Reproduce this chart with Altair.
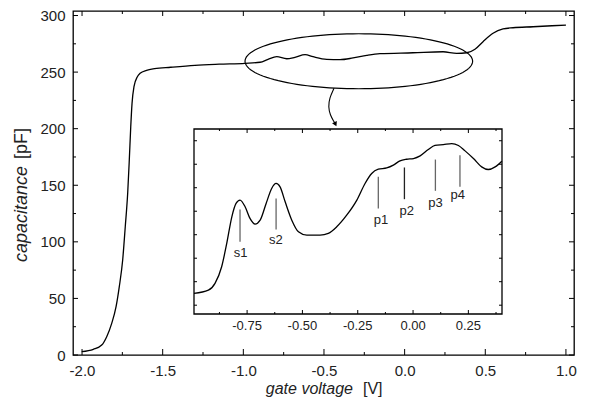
import altair as alt
import pandas as pd
import numpy as np

FONT = "Liberation Sans"

# ---------------- main curve (gate voltage [V], capacitance [pF]) -------------
main_x = [-2.002, -1.930, -1.878, -1.847, -1.816, -1.789, -1.769, -1.748, -1.732,
          -1.717, -1.707, -1.698, -1.690, -1.678, -1.657, -1.640, -1.600, -1.550,
          -1.450, -1.300, -1.150, -0.990, -0.896, -0.847, -0.793, -0.731, -0.680,
          -0.617, -0.568, -0.483, -0.400, -0.320, -0.235, -0.153, 0.052, 0.238,
          0.323, 0.385, 0.436, 0.486, 0.548, 0.610, 0.672, 0.796, 1.000]
main_y = [2.9, 5.0, 8.8, 16.2, 28.0, 42.7, 60.4, 84.0, 113.4,
          142.9, 172.3, 201.7, 222.4, 237.1, 245.9, 248.9, 251.5, 253.0,
          254.3, 256.0, 257.0, 257.8, 258.7, 261.3, 263.6, 261.8, 263.1,
          265.4, 263.6, 261.3, 261.0, 262.5, 264.8, 266.3, 267.1, 268.0,
          266.6, 267.1, 270.2, 276.9, 284.3, 288.1, 289.2, 290.1, 291.6]

# ---------------- inset curve ------------------------------------------------
inset_x = [-0.990, -0.925, -0.895, -0.865, -0.842, -0.819, -0.800, -0.782, -0.759,
           -0.737, -0.714, -0.691, -0.664, -0.639, -0.619, -0.601, -0.578, -0.548,
           -0.518, -0.480, -0.420, -0.383, -0.345, -0.300, -0.254, -0.217, -0.187,
           -0.157, -0.119, -0.089, -0.059, -0.029, 0.002, 0.032, 0.069, 0.099,
           0.137, 0.175, 0.205, 0.235, 0.273, 0.310, 0.340, 0.371, 0.401]
inset_y = [257.81, 258.03, 258.49, 259.62, 261.21, 263.02, 263.93, 264.16, 263.70,
           262.91, 262.52, 262.79, 263.93, 264.95, 265.29, 265.06, 264.04, 262.79,
           262.00, 261.77, 261.77, 261.89, 262.34, 263.13, 264.16, 265.29, 265.97,
           266.26, 266.35, 266.54, 266.83, 266.94, 266.99, 267.17, 267.60, 267.88,
           267.94, 268.01, 267.88, 267.51, 266.99, 266.42, 266.24, 266.42, 266.81]

# ---------------- peak markers in the inset ----------------------------------
marker_label = ["s1", "s2", "p1", "p2", "p3", "p4"]
marker_x = [-0.782, -0.619, -0.157, -0.039, 0.101, 0.212]
marker_top = [263.52, 264.27, 265.74, 266.38, 266.92, 267.22]
marker_bottom = [261.32, 262.16, 263.59, 264.22, 264.79, 265.06]
marker_label_x = [-0.779, -0.620, -0.145, -0.028, 0.101, 0.202]
marker_label_y = [260.53, 261.43, 262.79, 263.41, 263.93, 264.50]
marker_color = ["#666666", "#666666", "#666666", "#222222", "#666666", "#666666"]

# ---------------- ellipse + arrow annotation (main coords) -------------------
ell_cx, ell_cy, ell_rx, ell_ry = -0.284, 259.6, 0.7055, 24.3
arrow_x = [-0.438, -0.466, -0.473, -0.462, -0.438, -0.428]
arrow_y = [235.7, 227.1, 219.4, 212.1, 206.2, 203.5]
arrow_head = (-0.431, 204.5)

# ---------------- axes -------------------------------------------------------
X_DOM = [-2.056, 1.05]
Y_DOM = [0, 304]
x_major = [-2.0, -1.5, -1.0, -0.5, 0.0, 0.5, 1.0]
x_minor = [-1.75, -1.25, -0.75, -0.25, 0.25, 0.75]
y_major = [0, 50, 100, 150, 200, 250, 300]
y_minor = [25, 75, 125, 175, 225, 275]

IX_DOM = [-0.99, 0.402]
IY_DOM = [256.4, 269.0]
ix_major = [-0.75, -0.5, -0.25, 0.0, 0.25]
ix_labels = ["-0.75", "-0.50", "-0.25", "0.00", "0.25"]
ix_minor = [-0.875, -0.625, -0.375, -0.125, 0.125, 0.375]
iy_ticks = [257.0, 258.6, 260.2, 261.8, 263.4, 265.0, 266.6, 268.2]

W, H = 501, 344
IX_RANGE = [121, 429]
IY_RANGE = [303, 118]

MINUS = "replace(datum.label, '\u2212', '-')"

xs = alt.Scale(domain=X_DOM, nice=False, zero=False)
ys = alt.Scale(domain=Y_DOM, nice=False, zero=False)
ixs = alt.Scale(domain=IX_DOM, range=IX_RANGE, nice=False, zero=False)
iys = alt.Scale(domain=IY_DOM, range=IY_RANGE, nice=False, zero=False)

main_xaxis = alt.Axis(values=x_major, format=".1f", labelExpr=MINUS, title=None, ticks=False,
                      domain=False, grid=False, labelFont=FONT, labelFontSize=15,
                      labelColor="#222", labelPadding=8)
main_yaxis = alt.Axis(values=y_major, format="d", title=None, ticks=False, domain=False,
                      grid=False, labelFont=FONT, labelFontSize=15, labelColor="#222",
                      labelPadding=8)

main_df = pd.DataFrame({"x": main_x, "y": main_y})
curve = alt.Chart(main_df).mark_line(color="black", strokeWidth=1.3, interpolate="monotone").encode(
    x=alt.X("x:Q", scale=xs, axis=main_xaxis),
    y=alt.Y("y:Q", scale=ys, axis=main_yaxis),
)

t = np.linspace(0, 2 * np.pi, 121)
ell_df = pd.DataFrame({"x": ell_cx + ell_rx * np.cos(t), "y": ell_cy + ell_ry * np.sin(t), "i": range(len(t))})
ellipse = alt.Chart(ell_df).mark_line(color="black", strokeWidth=1.2).encode(
    x=alt.X("x:Q", scale=xs, axis=main_xaxis), y=alt.Y("y:Q", scale=ys, axis=main_yaxis), order="i:Q")

arr_df = pd.DataFrame({"x": arrow_x, "y": arrow_y, "i": range(len(arrow_x))})
arrow = alt.Chart(arr_df).mark_line(color="black", strokeWidth=1.1, interpolate="basis").encode(
    x=alt.X("x:Q", scale=xs, axis=main_xaxis), y=alt.Y("y:Q", scale=ys, axis=main_yaxis), order="i:Q")
head = alt.Chart(pd.DataFrame({"x": [arrow_head[0]], "y": [arrow_head[1]]})).mark_point(
    shape="triangle", angle=155, filled=True, color="black", size=28, opacity=1).encode(
    x=alt.X("x:Q", scale=xs, axis=main_xaxis), y=alt.Y("y:Q", scale=ys, axis=main_yaxis))


def hticks_y(vals, xscale, yscale, y_edge, off, xaxis, yaxis):
    return alt.Chart(pd.DataFrame({"v": vals})).mark_rule(color="black", strokeWidth=1, y2Offset=off).encode(
        x=alt.X("v:Q", scale=xscale, axis=xaxis), y=alt.Y(datum=y_edge, scale=yscale, axis=yaxis),
        y2=alt.datum(y_edge))


def vticks_x(vals, xscale, yscale, x_edge, off, xaxis, yaxis):
    return alt.Chart(pd.DataFrame({"v": vals})).mark_rule(color="black", strokeWidth=1, x2Offset=off).encode(
        y=alt.Y("v:Q", scale=yscale, axis=yaxis), x=alt.X(datum=x_edge, scale=xscale, axis=xaxis),
        x2=alt.datum(x_edge))


ma = (main_xaxis, main_yaxis)
main_ticks = [
    hticks_y(x_major, xs, ys, Y_DOM[0], -6, *ma), hticks_y(x_minor, xs, ys, Y_DOM[0], -3, *ma),
    hticks_y(x_major, xs, ys, Y_DOM[1], 5, *ma), hticks_y(x_minor, xs, ys, Y_DOM[1], 3, *ma),
    vticks_x(y_major, xs, ys, X_DOM[0], 5, *ma), vticks_x(y_minor, xs, ys, X_DOM[0], 3, *ma),
    vticks_x(y_major, xs, ys, X_DOM[1], -5, *ma), vticks_x(y_minor, xs, ys, X_DOM[1], -3, *ma),
]

xt1 = alt.Chart(pd.DataFrame({"t": ["gate voltage"]})).mark_text(
    font=FONT, fontSize=16, fontStyle="italic", align="right", baseline="middle", color="#222").encode(
    text="t:N", x=alt.value(280), y=alt.value(378))
xt2 = alt.Chart(pd.DataFrame({"t": ["[V]"]})).mark_text(
    font=FONT, fontSize=16, align="left", baseline="middle", color="#222").encode(
    text="t:N", x=alt.value(290), y=alt.value(378))
yt1 = alt.Chart(pd.DataFrame({"t": ["capacitance"]})).mark_text(
    font=FONT, fontSize=18, fontStyle="italic", align="left", baseline="middle", angle=270, color="#222").encode(
    text="t:N", x=alt.value(-51), y=alt.value(251))
yt2 = alt.Chart(pd.DataFrame({"t": ["[pF]"]})).mark_text(
    font=FONT, fontSize=18, align="left", baseline="middle", angle=270, color="#222").encode(
    text="t:N", x=alt.value(-51), y=alt.value(148))

main_layer = alt.layer(curve, ellipse, arrow, head, *main_ticks, xt1, xt2, yt1, yt2)

# ---------------- inset ------------------------------------------------------
frame = alt.Chart(pd.DataFrame({"x0": [IX_DOM[0]], "x1": [IX_DOM[1]], "y0": [IY_DOM[0]], "y1": [IY_DOM[1]]})).mark_rect(
    fill="white", stroke="black", strokeWidth=1.3).encode(
    x=alt.X("x0:Q", scale=ixs, axis=None), x2="x1:Q",
    y=alt.Y("y0:Q", scale=iys, axis=None), y2="y1:Q",
)

inset_df = pd.DataFrame({"x": inset_x, "y": inset_y})
inset_curve = alt.Chart(inset_df).mark_line(color="black", strokeWidth=1.3, interpolate="monotone").encode(
    x=alt.X("x:Q", scale=ixs, axis=None), y=alt.Y("y:Q", scale=iys, axis=None))

mk_df = pd.DataFrame({"label": marker_label, "x": marker_x, "top": marker_top, "bottom": marker_bottom,
                      "lx": marker_label_x, "ly": marker_label_y, "c": marker_color})
markers = alt.Chart(mk_df).mark_rule(strokeWidth=1.3).encode(
    x=alt.X("x:Q", scale=ixs, axis=None), y=alt.Y("top:Q", scale=iys, axis=None), y2="bottom:Q",
    color=alt.Color("c:N", scale=None))
marker_text = alt.Chart(mk_df).mark_text(font=FONT, fontSize=13, color="#222", baseline="middle").encode(
    x=alt.X("lx:Q", scale=ixs, axis=None), y=alt.Y("ly:Q", scale=iys, axis=None), text="label:N")

ilab_df = pd.DataFrame({"v": ix_major, "t": ix_labels})
inset_labels = alt.Chart(ilab_df).mark_text(font=FONT, fontSize=13, color="#222", baseline="middle", dy=12).encode(
    x=alt.X("v:Q", scale=ixs, axis=None), y=alt.Y(datum=IY_DOM[0], scale=iys, axis=None), text="t:N")

na = (None, None)
inset_ticks = [
    hticks_y(ix_major, ixs, iys, IY_DOM[0], -4, *na), hticks_y(ix_minor, ixs, iys, IY_DOM[0], -2, *na),
    hticks_y(ix_major, ixs, iys, IY_DOM[1], 4, *na), hticks_y(ix_minor, ixs, iys, IY_DOM[1], 2, *na),
    vticks_x(iy_ticks, ixs, iys, IX_DOM[0], 3, *na), vticks_x(iy_ticks, ixs, iys, IX_DOM[1], -3, *na),
]

inset_layer = alt.layer(frame, inset_curve, markers, marker_text, inset_labels, *inset_ticks)

chart = alt.layer(main_layer, inset_layer).resolve_scale(x="independent", y="independent").properties(
    width=W, height=H,
    padding={"left": 65, "top": 3, "right": 7, "bottom": 43},
    autosize=alt.AutoSizeParams(type="none"),
    background="white",
).configure_view(stroke="black", strokeWidth=1.3)

chart.save("out.html", embed_options={"renderer": "svg", "actions": False})
